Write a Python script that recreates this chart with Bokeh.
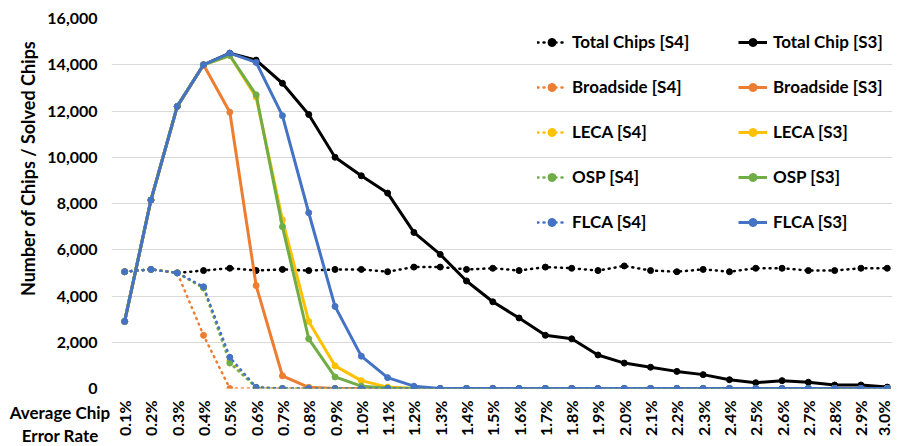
import math
from bokeh.plotting import figure
from bokeh.models import (Range1d, FixedTicker, NumeralTickFormatter, Legend,
                          LegendItem, Title, Div)
from bokeh.layouts import column
from bokeh.embed import file_html
from bokeh.resources import INLINE

# ---------------- data ----------------
rates = ["0.1%", "0.2%", "0.3%", "0.4%", "0.5%", "0.6%", "0.7%", "0.8%", "0.9%", "1.0%",
         "1.1%", "1.2%", "1.3%", "1.4%", "1.5%", "1.6%", "1.7%", "1.8%", "1.9%", "2.0%",
         "2.1%", "2.2%", "2.3%", "2.4%", "2.5%", "2.6%", "2.7%", "2.8%", "2.9%", "3.0%"]

total_s4 = [5050, 5150, 5000, 5100, 5200, 5100, 5150, 5100, 5150, 5150,
            5050, 5250, 5250, 5150, 5200, 5100, 5250, 5200, 5100, 5300,
            5100, 5050, 5150, 5050, 5200, 5200, 5100, 5100, 5200, 5200]
total_s3 = [2900, 8150, 12200, 14000, 14500, 14200, 13200, 11850, 10000, 9200,
            8450, 6750, 5800, 4650, 3750, 3050, 2300, 2150, 1450, 1100,
            920, 740, 600, 380, 250, 340, 270, 150, 150, 60]
broadside_s4 = [5050, 5150, 5000, 2300, 0, 0, 0, 0, 0, 0,
                0, 0, 0, 0, 0, 0, 0, 0, 0, 0,
                0, 0, 0, 0, 0, 0, 0, 0, 0, 0]
broadside_s3 = [2900, 8150, 12200, 14000, 11950, 4450, 550, 50, 0, 0,
                0, 0, 0, 0, 0, 0, 0, 0, 0, 0,
                0, 0, 0, 0, 0, 0, 0, 0, 0, 0]
leca_s4 = [5050, 5150, 5000, 4350, 1200, 50, 0, 0, 0, 0,
           0, 0, 0, 0, 0, 0, 0, 0, 0, 0,
           0, 0, 0, 0, 0, 0, 0, 0, 0, 0]
leca_s3 = [2900, 8150, 12200, 14000, 14400, 12600, 7300, 2900, 980, 340,
           60, 0, 0, 0, 0, 0, 0, 0, 0, 0,
           0, 0, 0, 0, 0, 0, 0, 0, 0, 0]
osp_s4 = [5050, 5150, 5000, 4350, 1100, 50, 0, 0, 0, 0,
          0, 0, 0, 0, 0, 0, 0, 0, 0, 0,
          0, 0, 0, 0, 0, 0, 0, 0, 0, 0]
osp_s3 = [2900, 8150, 12200, 14000, 14400, 12700, 7000, 2150, 500, 100,
          20, 0, 0, 0, 0, 0, 0, 0, 0, 0,
          0, 0, 0, 0, 0, 0, 0, 0, 0, 0]
flca_s4 = [5050, 5150, 5000, 4400, 1350, 50, 0, 0, 0, 0,
           0, 0, 0, 0, 0, 0, 0, 0, 0, 0,
           0, 0, 0, 0, 0, 0, 0, 0, 0, 0]
flca_s3 = [2900, 8150, 12200, 14000, 14500, 14100, 11800, 7600, 3550, 1400,
           470, 100, 0, 0, 0, 0, 0, 0, 0, 0,
           0, 0, 0, 0, 0, 0, 0, 0, 0, 0]

y_ticks = [0, 2000, 4000, 6000, 8000, 10000, 12000, 14000, 16000]

series = [
    ("Total Chips [S4]", total_s4, "#000000", "dotted"),
    ("Total Chip [S3]", total_s3, "#000000", "solid"),
    ("Broadside [S4]", broadside_s4, "#ED7D31", "dotted"),
    ("Broadside [S3]", broadside_s3, "#ED7D31", "solid"),
    ("LECA [S4]", leca_s4, "#FFC000", "dotted"),
    ("LECA [S3]", leca_s3, "#FFC000", "solid"),
    ("OSP [S4]", osp_s4, "#70AD47", "dotted"),
    ("OSP [S3]", osp_s3, "#70AD47", "solid"),
    ("FLCA [S4]", flca_s4, "#4472C4", "dotted"),
    ("FLCA [S3]", flca_s3, "#4472C4", "solid"),
]

FONT = "Lato"
xs = list(range(1, len(rates) + 1))

p = figure(width=892, height=438, output_backend="svg", toolbar_location=None,
           x_range=Range1d(0.5, 30.2), y_range=Range1d(0, 16000),
           min_border_left=111, min_border_right=0, min_border_top=18,
           min_border_bottom=48)
p.outline_line_color = None
p.background_fill_color = "white"
p.border_fill_color = "white"

p.xgrid.visible = False
p.ygrid.grid_line_color = "#D9D9D9"
p.ygrid.grid_line_width = 1

p.yaxis.ticker = FixedTicker(ticks=y_ticks)
p.yaxis.formatter = NumeralTickFormatter(format="0,0")
p.xaxis.ticker = FixedTicker(ticks=xs)
p.xaxis.major_label_overrides = {x: r for x, r in zip(xs, rates)}
p.xaxis.major_label_orientation = math.pi / 2

for ax in (p.xaxis, p.yaxis):
    ax.axis_line_color = None
    ax.major_tick_line_color = None
    ax.minor_tick_line_color = None
    ax.major_tick_out = 0
    ax.major_tick_in = 0
    ax.major_label_text_font = FONT
    ax.major_label_text_font_size = "16px"
    ax.major_label_text_font_style = "bold"
    ax.major_label_text_color = "#000000"
p.yaxis.major_label_standoff = 14
p.xaxis.major_label_standoff = 12

items = []
for name, vals, color, style in series:
    if style == "dotted":
        lr = p.line(xs, vals, line_color=color, line_width=2.5,
                    line_dash="1 5", line_cap="round")
    else:
        lr = p.line(xs, vals, line_color=color, line_width=3, line_join="round")
    sr = p.scatter(xs, vals, marker="circle", size=6, fill_color=color,
                   line_color=color)
    items.append(LegendItem(label=name, renderers=[lr, sr]))

legend = Legend(items=items, location=(426, 147), orientation="horizontal", ncols=2,
                glyph_width=29, glyph_height=20, label_standoff=6,
                label_width=160, label_height=39, spacing=6, padding=0, margin=0,
                border_line_color=None, background_fill_alpha=0,
                label_text_font=FONT, label_text_font_size="17px",
                label_text_font_style="bold", label_text_color="#000000")
p.add_layout(legend, "center")

p.add_layout(Title(text="Number of Chips / Solved Chips", align="right", offset=22,
                   standoff=11, text_font=FONT, text_font_size="18px",
                   text_font_style="bold", text_color="#000000"), "left")

x_title = Div(text="Average Chip<br>Error Rate", width=110, height=48,
              margin=(-48, 0, 0, 5),
              styles={"font-family": FONT, "font-weight": "bold",
                      "font-size": "17px", "line-height": "23px",
                      "text-align": "center", "color": "#000000",
                      "padding-top": "11px", "overflow": "visible",
                      "pointer-events": "none"})

layout = column(p, x_title, spacing=0)

open("out.html", "w").write(file_html(layout, INLINE))
